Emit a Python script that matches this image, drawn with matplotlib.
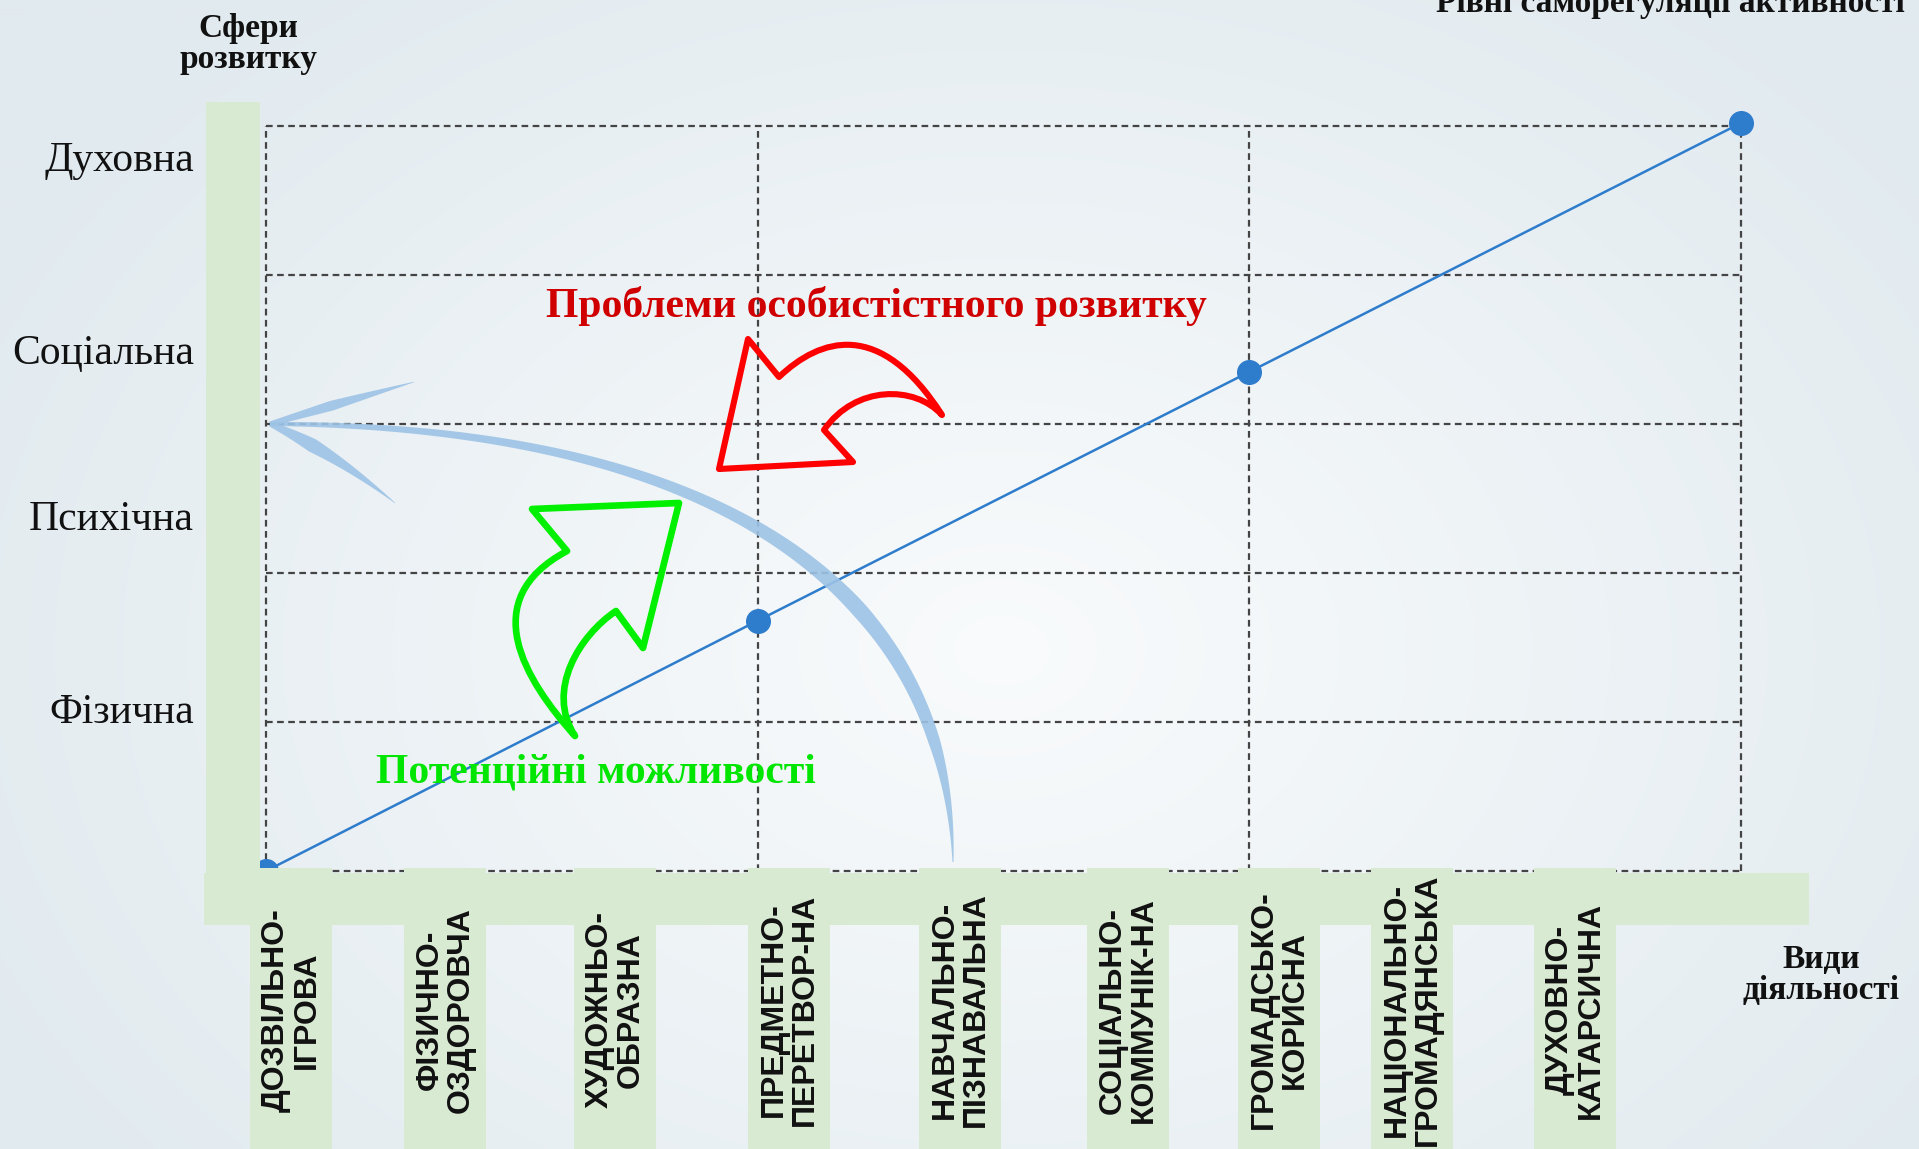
import numpy as np
import matplotlib.pyplot as plt
from matplotlib.path import Path
from matplotlib.patches import PathPatch, Polygon, Rectangle

W, H = 1919, 1149

# рівні саморегуляції (x) та сфери розвитку (y)
level_x = [0, 1, 2, 3]
level_y = [0, 1.68, 3.35, 5.02]

spheres = ['Фізична', 'Психічна', 'Соціальна', 'Духовна']
sphere_pos = [1.09, 2.39, 3.5, 4.8]

activities = ['ДОЗВІЛЬНО-\nІГРОВА', 'ФІЗИЧНО-\nОЗДОРОВЧА', 'ХУДОЖНЬО-\nОБРАЗНА',
              'ПРЕДМЕТНО-\nПЕРЕТВОР-НА', 'НАВЧАЛЬНО-\nПІЗНАВАЛЬНА', 'СОЦІАЛЬНО-\nКОММУНІК-НА',
              'ГРОМАДСЬКО-\nКОРИСНА', 'НАЦІОНАЛЬНО-\nГРОМАДЯНСЬКА', 'ДУХОВНО-\nКАТАРСИЧНА']
activity_px = [291, 445, 615, 789, 960, 1128, 1279, 1412, 1575]

serif = 'Liberation Serif'
sans = 'Liberation Sans'
green_bg = '#d9ead3'
blue = '#2e7ccc'

fig = plt.figure(figsize=(W / 100, H / 100), dpi=100)

# фон з градієнтом
bg = fig.add_axes([0, 0, 1, 1], zorder=0)
yy, xx = np.mgrid[0:H:4, 0:W:4]
d = np.clip(np.sqrt(((xx - 1000) / 1150) ** 2 + ((yy - 650) / 850) ** 2), 0, 1)
c0 = np.array([249, 251, 252]) / 255
c1 = np.array([225, 234, 239]) / 255
img = c0 * (1 - d[..., None]) + c1 * d[..., None]
bg.imshow(img, extent=(0, W, H, 0), aspect='auto', interpolation='bilinear')
bg.set_xlim(0, W)
bg.set_ylim(H, 0)
bg.axis('off')

# основна діаграма
ax = fig.add_axes([266 / W, (H - 871) / H, 1475 / W, 745 / H], zorder=1)
ax.patch.set_visible(False)
ax.set_xlim(0, 3)
ax.set_ylim(0, 5)
for s in ax.spines.values():
    s.set_visible(False)
ax.hlines(range(6), 0, 3, colors='#444444', linestyles=(0, (3, 2)), linewidth=1.6, clip_on=False)
ax.vlines(level_x, 0, 5, colors='#444444', linestyles=(0, (3, 2)), linewidth=1.6, clip_on=False)
ax.plot(level_x, level_y, color=blue, lw=1.8, clip_on=False)
ax.plot(level_x, level_y, 'o', ms=17, color=blue, clip_on=False)
ax.set_xticks([])
ax.set_yticks(sphere_pos, spheres, fontsize=30, family=serif)
ax.tick_params(axis='y', length=0, pad=52, colors='#111111')

# верхній шар: смуги, стрілки, підписи
top = fig.add_axes([0, 0, 1, 1], zorder=2)
top.set_xlim(0, W)
top.set_ylim(H, 0)
top.axis('off')

top.add_patch(Rectangle((206, 102), 54, 771, color=green_bg, lw=0))
top.add_patch(Rectangle((204, 873), 1605, 52, color=green_bg, lw=0))
for cx, lab in zip(activity_px, activities):
    top.add_patch(Rectangle((cx - 41, 868), 82, 281, color=green_bg, lw=0))
    top.text(cx, 1010, lab, rotation=90, ha='center', va='center', multialignment='center',
             fontsize=23, fontweight='bold', family=sans, linespacing=1.05, color='#111111')


def bez(p, t):
    p = np.asarray(p, float)
    t = t[:, None]
    if len(p) == 3:
        return (1 - t) ** 2 * p[0] + 2 * (1 - t) * t * p[1] + t ** 2 * p[2]
    return ((1 - t) ** 3 * p[0] + 3 * (1 - t) ** 2 * t * p[1]
            + 3 * (1 - t) * t ** 2 * p[2] + t ** 3 * p[3])


def stroke(ctrl, tw, ww):
    t = np.linspace(0, 1, 200)
    pts = bez(ctrl, t)
    g = np.gradient(pts, axis=0)
    n = np.column_stack([-g[:, 1], g[:, 0]])
    n /= np.linalg.norm(n, axis=1)[:, None]
    w = np.interp(t, tw, ww)[:, None] / 2
    return np.vstack([pts + n * w, (pts - n * w)[::-1]])


arrow_kw = dict(color='#9dc3e6', alpha=0.9, lw=0)
tip = (270, 424)
top.add_patch(Polygon(stroke([(953, 862), (948, 570), (690, 425), tip],
                             [0, 0.15, 0.35, 0.6, 0.85, 1], [1, 12, 16, 11, 7, 4]), **arrow_kw))
top.add_patch(Polygon(stroke([tip, (350, 400), (414, 382)],
                             [0, 0.4, 1], [5, 10, 0.5]), **arrow_kw))
top.add_patch(Polygon(stroke([tip, (330, 450), (395, 503)],
                             [0, 0.35, 1], [5, 14, 0.5]), **arrow_kw))

# червона стрілка
red_path = Path([(719, 469), (748, 339), (779, 377),
                 (820, 338), (880, 318), (942, 415),
                 (915, 385), (855, 385), (824, 430),
                 (853, 462), (719, 469)],
                [Path.MOVETO, Path.LINETO, Path.LINETO,
                 Path.CURVE4, Path.CURVE4, Path.CURVE4,
                 Path.CURVE4, Path.CURVE4, Path.CURVE4,
                 Path.LINETO, Path.CLOSEPOLY])
top.add_patch(PathPatch(red_path, fill=False, ec='#ff0000', lw=4.4, joinstyle='round'))

# зелена стрілка
green_path = Path([(679, 503), (643, 648), (616, 611),
                   (580, 635), (545, 690), (575, 736),
                   (525, 680), (475, 600), (567, 551),
                   (532, 509), (679, 503)],
                  [Path.MOVETO, Path.LINETO, Path.LINETO,
                   Path.CURVE4, Path.CURVE4, Path.CURVE4,
                   Path.CURVE4, Path.CURVE4, Path.CURVE4,
                   Path.LINETO, Path.CLOSEPOLY])
top.add_patch(PathPatch(green_path, fill=False, ec='#00f000', lw=4.8, joinstyle='round'))

top.text(248, 44, 'Сфери\nрозвитку', ha='center', va='center', fontsize=24,
         fontweight='bold', family=serif, linespacing=1.0, color='#111111')
top.text(1905, 12, 'Рівні саморегуляції активності', ha='right', va='baseline', fontsize=24,
         fontweight='bold', family=serif, color='#111111')
top.text(1821, 975, 'Види\nдіяльності', ha='center', va='center', fontsize=24,
         fontweight='bold', family=serif, linespacing=1.0, color='#111111')
top.text(876, 306, 'Проблеми особистістного розвитку', ha='center', va='center', fontsize=30,
         fontweight='bold', family=serif, color='#d00000')
top.text(596, 772, 'Потенційні можливості', ha='center', va='center', fontsize=30,
         fontweight='bold', family=serif, color='#00e600')

fig.savefig('out.png', dpi=100)
